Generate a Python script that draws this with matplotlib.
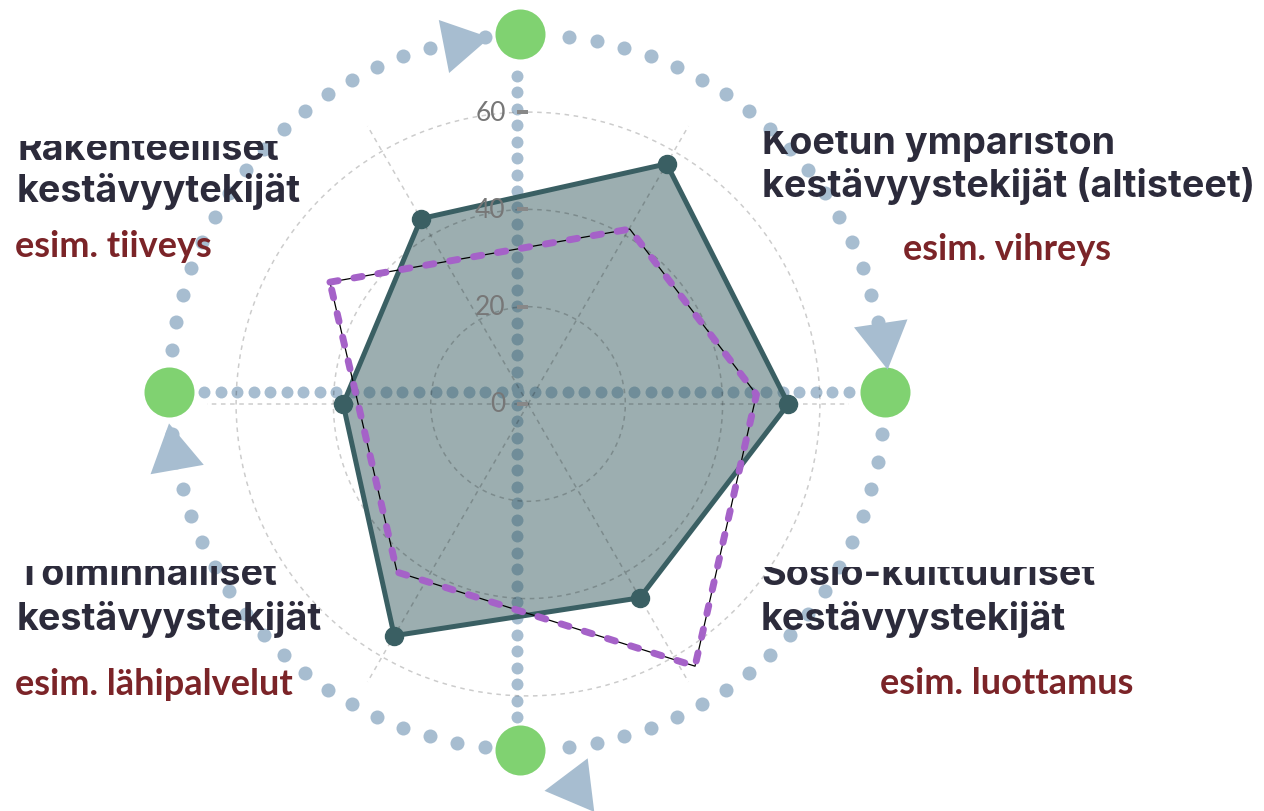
import numpy as np
import matplotlib
matplotlib.use("Agg")
import matplotlib.pyplot as plt
from matplotlib.patches import Polygon
from matplotlib.transforms import Bbox, TransformedBbox, offset_copy

# ── Data ──────────────────────────────────────────────────────────────────────
axis_angles = [30, 90, 150, 210, 270, 330]          # degrees, clockwise from north
main_values = [57, 53.5, 46, 55, 38, 44]

overlay_angles = [301.6, 30.2, 87.6, 147.5, 217.9]   # dashed purple outline
overlay_values = [47.8, 41.6, 47.0, 63.9, 43.8]

r_ticks = [0, 20, 40, 60]
r_max = 66

titles = [
    ("Rakenteelliset", "kestävyytekijät", "esim. tiiveys"),
    ("Koetun ympäriston", "kestävyystekijät (altisteet)", "esim. vihreys"),
    ("Toiminnalliset", "kestävyystekijät", "esim. lähipalvelut"),
    ("Sosio-kulttuuriset", "kestävyystekijät", "esim. luottamus"),
]

# ── Colours / sizes ───────────────────────────────────────────────────────────
W, H = 1264, 812
DARK = "#3a5f63"
PURPLE = "#a562c8"
DOT = "#a7bdd0"
GREEN = "#80d271"
TITLE_C = "#2c2b3b"
SUB_C = "#7b2428"

fig = plt.figure(figsize=(W / 100, H / 100), dpi=100)
fig.patch.set_facecolor("white")

# ── Background decoration (pixel coords, y down) ─────────────────────────────
bg = fig.add_axes([0, 0, 1, 1])
bg.set_xlim(0, W)
bg.set_ylim(H, 0)
bg.axis("off")

# dotted cross
vx = np.linspace(77, 718, 40)
bg.scatter(np.full_like(vx, 517), vx, s=74, color=DOT, lw=0, zorder=1)
hx = np.linspace(204, 849, 40)
bg.scatter(hx, np.full_like(hx, 393), s=74, color=DOT, lw=0, zorder=1)

# dotted cycle circle
cx, cy, R = 527, 393, 358
ang = np.concatenate([np.linspace(6.8, 83.2, 18) + q * 90 for q in range(4)])
ang = np.radians(ang)
bg.scatter(cx + R * np.sin(ang), cy - R * np.cos(ang), s=102, color=DOT, lw=0, zorder=1)

# green nodes
node_x = [520, 885, 520, 169]
node_y = [35, 393, 751, 393]
bg.scatter(node_x, node_y, s=1296, color=GREEN, lw=0, zorder=2)

# arrow heads (clockwise)
arrow_angles = [349, 81.5, 173, 260]
arrow_radii = [355, 360, 398, 358]
for a_deg, rr in zip(arrow_angles, arrow_radii):
    a = np.radians(a_deg)
    px, py = cx + rr * np.sin(a), cy - rr * np.cos(a)
    d = np.array([np.cos(a), np.sin(a)])
    pts = []
    for rot in (0, 120, 240):
        t = np.radians(rot)
        rm = np.array([[np.cos(t), -np.sin(t)], [np.sin(t), np.cos(t)]])
        v = rm @ d * 31.2
        pts.append((px + v[0], py + v[1]))
    bg.add_patch(Polygon(pts, closed=True, color=DOT, lw=0, zorder=2))

# ── Radar ─────────────────────────────────────────────────────────────────────
pc_x, pc_y = 528, 405
rad_px = r_max * 4.865
ax = fig.add_axes([(pc_x - rad_px) / W, (H - pc_y - rad_px) / H,
                   2 * rad_px / W, 2 * rad_px / H], projection="polar")
ax.set_facecolor("none")
ax.set_theta_zero_location("N")
ax.set_theta_direction(-1)
ax.set_ylim(0, r_max)
ax.spines["polar"].set_visible(False)

ax.set_xticks(np.radians(axis_angles))
ax.set_xticklabels([])
ax.tick_params(axis="x", direction="out", length=8, width=1.5, color="#666666")
ax.set_yticks(r_ticks)
ax.set_yticklabels([])
ax.grid(True, color="black", alpha=0.2, linestyle=(0, (3, 3)), linewidth=1.1)

th = np.radians(axis_angles + axis_angles[:1])
rv = main_values + main_values[:1]
ax.fill(th, rv, color=DARK, alpha=0.5, lw=0, zorder=1)
ax.plot(th, rv, color=DARK, lw=3.6, zorder=3)
ax.plot(np.radians(axis_angles), main_values, "o", color=DARK, ms=13, zorder=4)

tho = np.radians(overlay_angles + overlay_angles[:1])
ro = overlay_values + overlay_values[:1]
ax.plot(tho, ro, color="black", lw=0.9, zorder=5)
ax.plot(tho, ro, color=PURPLE, lw=5, linestyle=(0, (1.2, 2.3)),
        dash_capstyle="round", zorder=6)

# radial labels + ticks
ax.plot([0] * len(r_ticks), r_ticks, linestyle="none", marker=0, ms=8,
        mew=1.5, color="#888888", zorder=7)
lab_tr = offset_copy(ax.transData, fig=fig, x=-16, y=0, units="points")
for v in r_ticks:
    ax.text(0, v, str(v), transform=lab_tr, ha="right", va="center",
            fontsize=19, color="#777777", family=["Lato", "DejaVu Sans"], zorder=8)

# ── Texts ─────────────────────────────────────────────────────────────────────
title_font = dict(family=["Inter", "DejaVu Sans"], fontweight="bold", fontsize=27.2, color=TITLE_C)
sub_font = dict(family=["Lato", "DejaVu Sans"], fontweight="bold", fontsize=26, color=SUB_C)

title_x = [17, 762, 17, 761]
line1_y = [160, 154, 585, 585]
line2_y = [202, 197, 630, 630]
cut_y = [142, 132, 567, 568]
sub_x = [15, 903, 15, 880]
sub_y = [257, 260, 695, 694]

for (l1, l2, s), tx, y1, y2, cy_, sx, sy in zip(titles, title_x, line1_y, line2_y,
                                                 cut_y, sub_x, sub_y):
    t1 = fig.text(tx / W, 1 - y1 / H, l1, va="baseline", ha="left", **title_font)
    t1.set_clip_box(TransformedBbox(Bbox.from_extents(0, 0, 1, 1 - cy_ / H),
                                    fig.transFigure))
    t1.set_clip_on(True)
    fig.text(tx / W, 1 - y2 / H, l2, va="baseline", ha="left", **title_font)
    fig.text(sx / W, 1 - sy / H, s, va="baseline", ha="left", **sub_font)

fig.savefig("out.png", dpi=100, facecolor="white")
